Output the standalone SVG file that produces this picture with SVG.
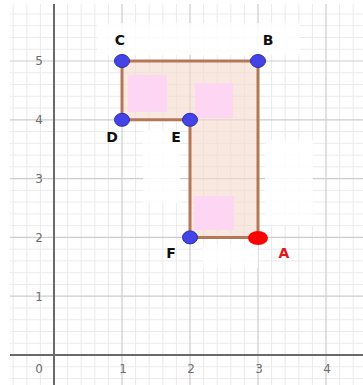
<svg xmlns="http://www.w3.org/2000/svg" width="363" height="385" viewBox="0 0 363 385">
<style>
.minor{stroke:#ebebeb;stroke-width:1;fill:none}
.major{stroke:#cdcdcd;stroke-width:1.2;fill:none}
.axis{stroke:#6a6a6a;stroke-width:2;fill:none}
.num{font-family:"DejaVu Sans","Liberation Sans",sans-serif;font-size:12px;fill:#6e6e6e;text-anchor:middle}
.lbl{font-family:"DejaVu Sans","Liberation Sans",sans-serif;font-size:14px;font-weight:bold;fill:#111;text-anchor:middle}
.pt{fill:#4343e6;stroke:#2c2cb0;stroke-width:1}
.pink{fill:#fcd6f3}
.wash{fill:#ffffff;opacity:0.85}
</style>
<rect width="363" height="385" fill="#ffffff"/>
<g id="grid">
<path class="minor" d="M13.2 4V385M26.8 4V385M40.4 4V385M67.6 4V385M81.2 4V385M94.8 4V385M108.4 4V385M135.6 4V385M149.2 4V385M162.8 4V385M176.4 4V385M203.6 4V385M217.2 4V385M230.8 4V385M244.4 4V385M271.6 4V385M285.2 4V385M298.8 4V385M312.4 4V385M339.6 4V385M353.2 4V385
M10 13.96H363M10 25.72H363M10 37.48H363M10 49.24H363M10 72.76H363M10 84.52H363M10 96.28H363M10 108.04H363M10 131.56H363M10 143.32H363M10 155.08H363M10 166.84H363M10 190.36H363M10 202.12H363M10 213.88H363M10 225.64H363M10 249.16H363M10 260.92H363M10 272.68H363M10 284.44H363M10 307.96H363M10 319.72H363M10 331.48H363M10 343.24H363M10 366.76H363M10 378.52H363"/>
<path class="major" d="M122 4V385M190 4V385M258 4V385M326 4V385M10 61H363M10 119.8H363M10 178.6H363M10 237.4H363M10 296.2H363"/>
</g>
<g id="washes">
<rect class="wash" x="97" y="23" width="203" height="32"/>
<rect class="wash" x="143" y="130" width="37" height="73"/>
<rect class="wash" x="265" y="140" width="48" height="85"/>
<rect class="wash" x="203" y="244" width="55" height="24"/>
</g>
<g id="axes">
<path class="axis" d="M54 4V385M10 355H363"/>
<text class="num" x="39" y="65">5</text>
<text class="num" x="39" y="124">4</text>
<text class="num" x="39" y="183">3</text>
<text class="num" x="39" y="242">2</text>
<text class="num" x="39" y="301">1</text>
<text class="num" x="39" y="373">0</text>
<text class="num" x="123" y="373">1</text>
<text class="num" x="191" y="373">2</text>
<text class="num" x="259" y="373">3</text>
<text class="num" x="327" y="373">4</text>
</g>
<g id="shape">
<polygon points="122,61 258,61 258,237.4 190,237.4 190,119.8 122,119.8" fill="#f4d9cb" fill-opacity="0.6" stroke="none"/>
<rect class="pink" x="128" y="75" width="39" height="37"/>
<rect class="pink" x="195" y="83" width="38" height="35"/>
<rect class="pink" x="194" y="196" width="40" height="34"/>
</g>
<g id="connectors">
<polygon points="122,61 258,61 258,237.4 190,237.4 190,119.8 122,119.8" fill="none" stroke="#b3785a" stroke-width="3" stroke-linejoin="round"/>
</g>
<g id="C"><ellipse class="pt" cx="122" cy="61" rx="7.5" ry="6.5"/><text class="lbl" x="120" y="45">C</text></g>
<g id="B"><ellipse class="pt" cx="258" cy="61" rx="7.5" ry="6.5"/><text class="lbl" x="268" y="45">B</text></g>
<g id="D"><ellipse class="pt" cx="122" cy="119.8" rx="7.5" ry="6.5"/><text class="lbl" x="112" y="142">D</text></g>
<g id="E"><ellipse class="pt" cx="190" cy="119.8" rx="7.5" ry="6.5"/><text class="lbl" x="176" y="142">E</text></g>
<g id="F"><ellipse class="pt" cx="190" cy="237.4" rx="7.5" ry="6.5"/><text class="lbl" x="171" y="258">F</text></g>
<g id="A"><ellipse cx="258" cy="238" rx="10" ry="7" fill="#ff0000"/><text class="lbl" x="284" y="258" style="fill:#e8141a">A</text></g>
</svg>
